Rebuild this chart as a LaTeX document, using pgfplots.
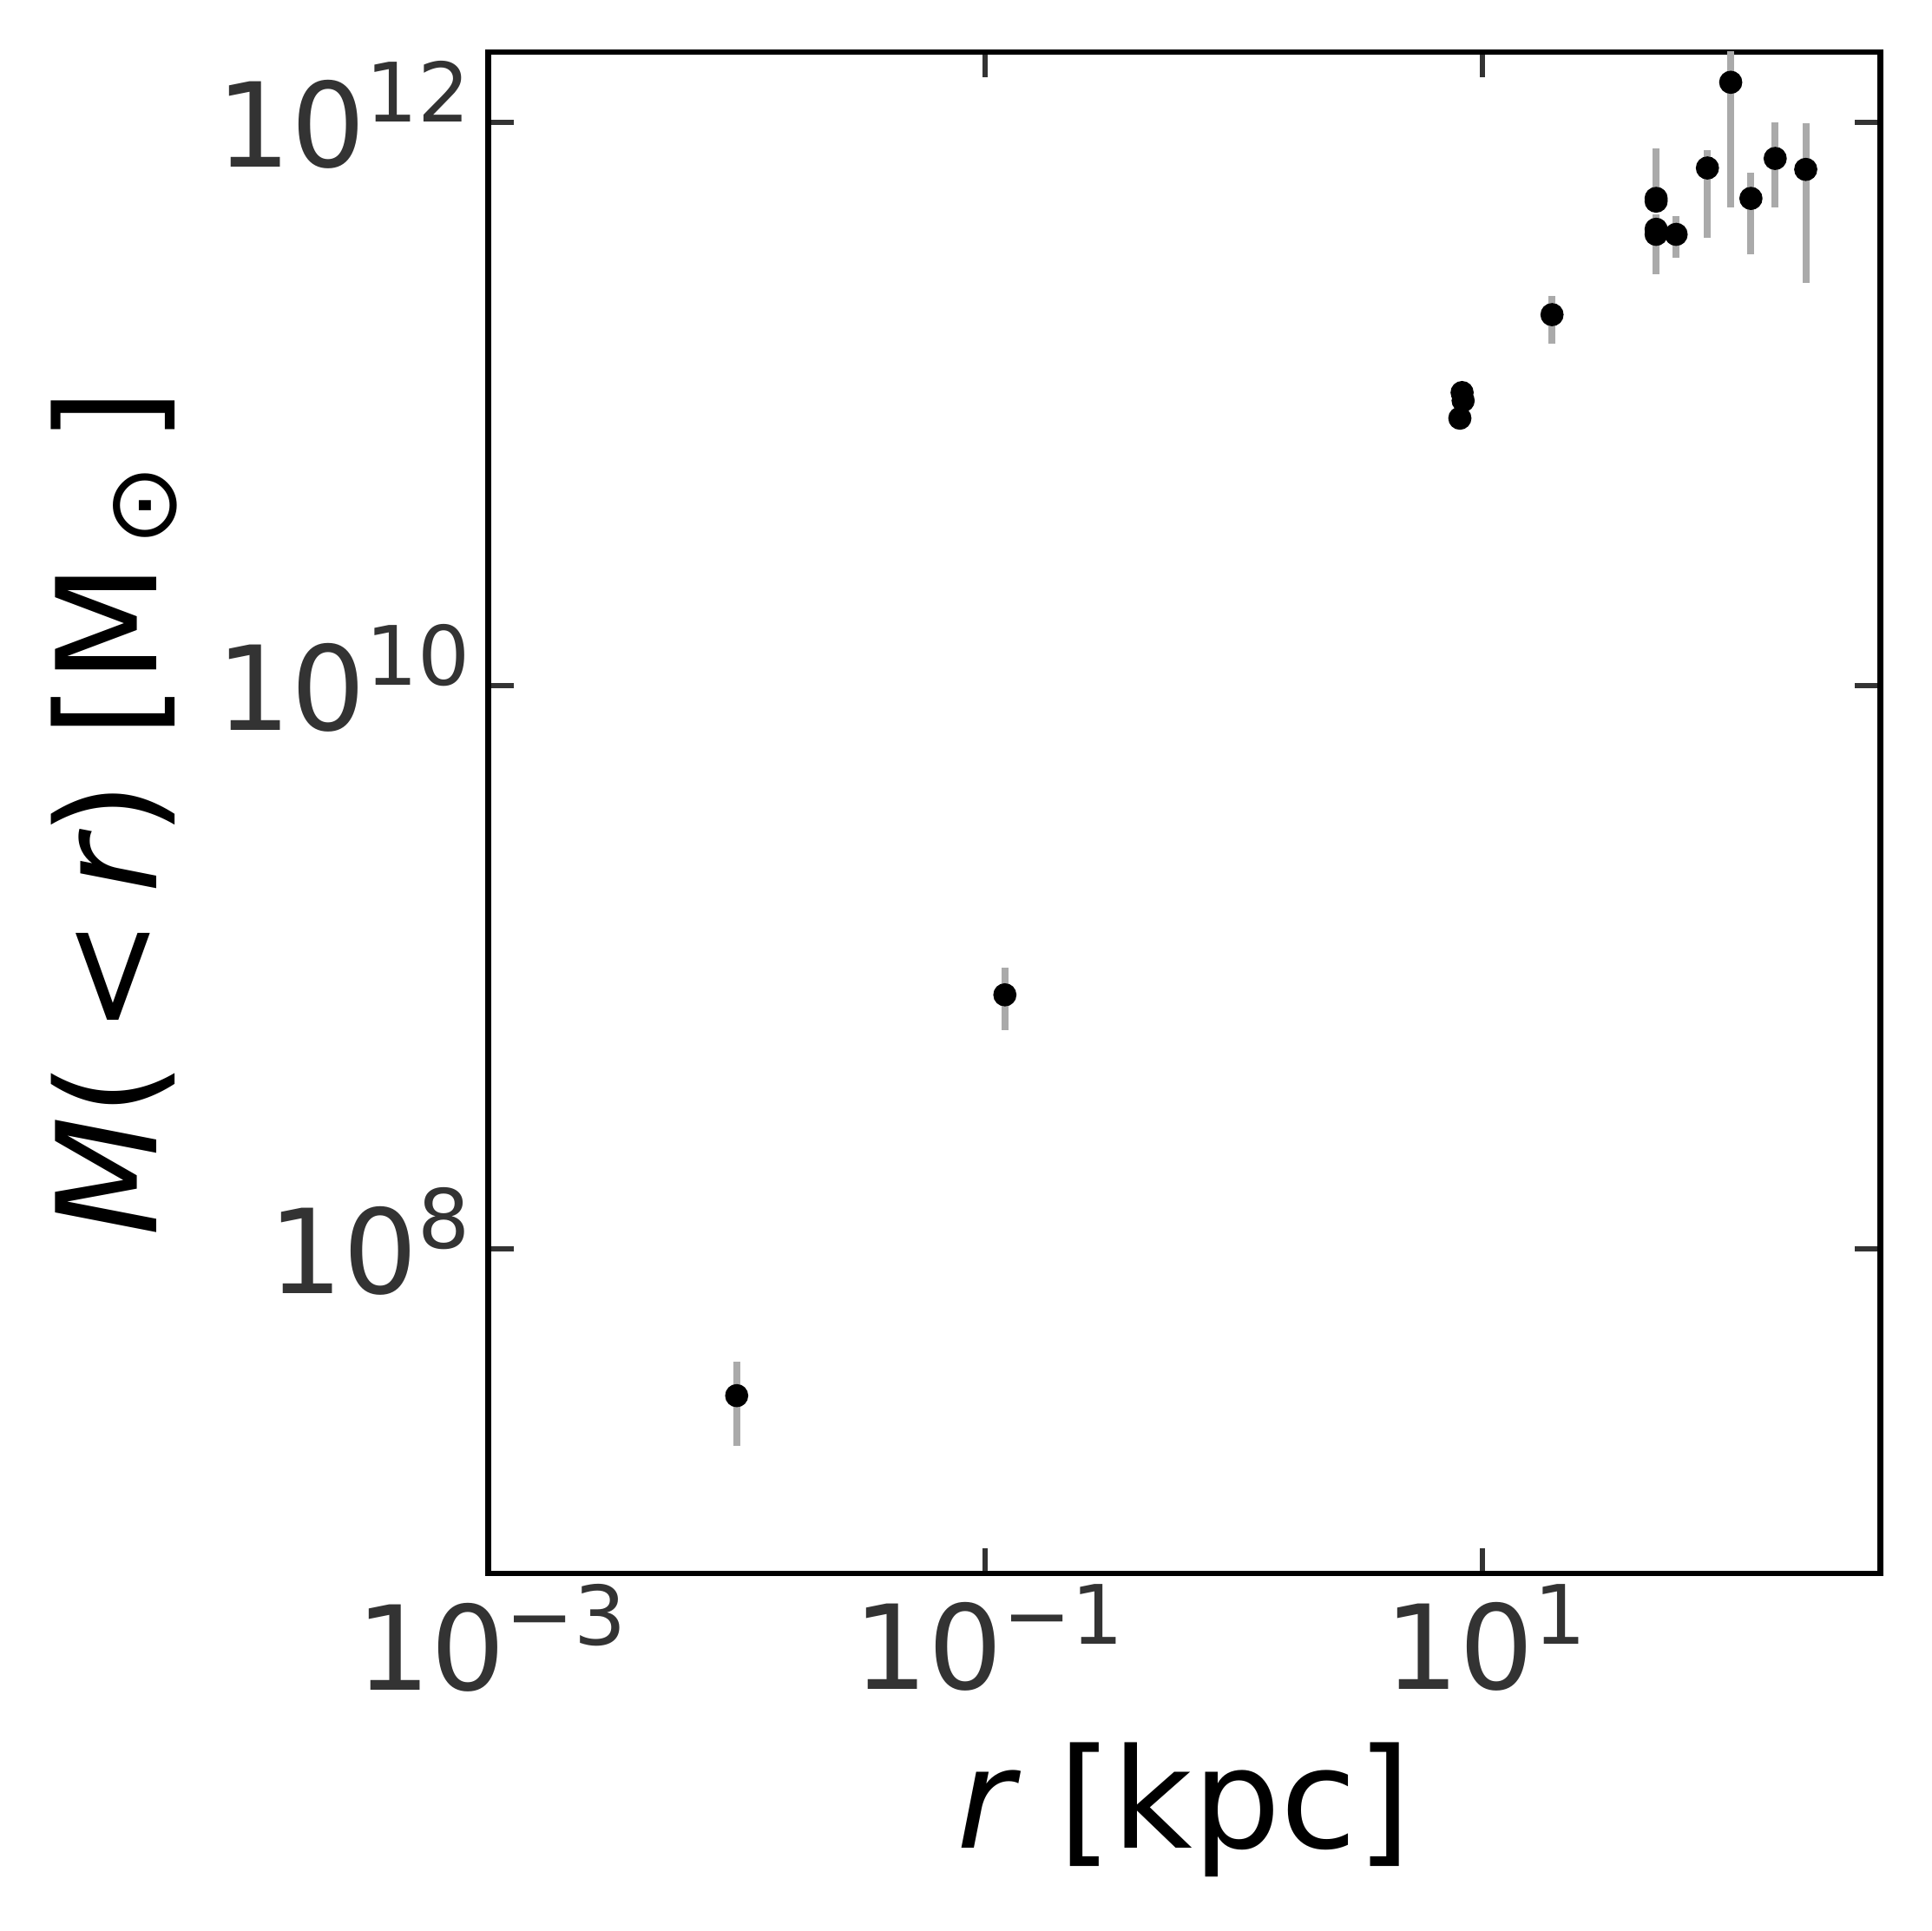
\documentclass[border=0pt]{standalone}
\usepackage{fontspec}
\setmainfont{DejaVu Sans}
\usepackage{pgfplots}
\usepackage{pgfplotstable}
\pgfplotsset{compat=1.18}

\definecolor{ticklab}{HTML}{333333}
\definecolor{errgrey}{HTML}{AAAAAA}

% power-of-ten tick label in the text font
\newcommand{\pw}[1]{10\raisebox{10.3pt}{\fontsize{18.9}{18.9}\selectfont #1}}

% r [kpc], M(<r) [Msun], with upper and lower errors
\pgfplotstableread{
x      y        ep       em
0.01   3.02e7   0.98e7   1.01e7
0.12   8.0e8    2.0e8    2.0e8
8.3    1.10e11  0        0
8.38   1.03e11  0        0
8.13   8.92e10  0        0
19.1   2.08e11  0.34e11  0.44e11
50.1   5.38e11  2.70e11  0.52e11
50.1   5.26e11  0        0
50.1   4.18e11  0.54e11  1.28e11
50.1   4.01e11  0.40e11  1.11e11
60.3   4.01e11  0.64e11  0.70e11
80.6   6.90e11  1.07e11  3.00e11
100    1.39e12  1.00e12  0.89e12
120.6  5.38e11  1.25e11  1.97e11
151    7.46e11  2.54e11  2.46e11
200.4  6.82e11  3.11e11  4.12e11
}\massdata

\begin{document}
\begin{tikzpicture}
\begin{axis}[
    xmode=log, ymode=log,
    scale only axis, width=320.8pt, height=350.6pt,
    at={(0,0)}, anchor=south west,
    xmin=1e-3, xmax=400,
    ymin=7.06e6, ymax=1.78e12,
    xtick={1e-3,1e-1,1e1},
    xticklabels={\pw{−3},\pw{−1},\pw{1}},
    ytick={1e8,1e10,1e12},
    yticklabels={\pw{8},\pw{10},\pw{12}},
    xminorticks=false, yminorticks=false,
    tick align=inside,
    major tick length=5.9pt,
    every tick/.style={color=ticklab, line width=1.2pt},
    axis line style={line width=1.33pt},
    tick label style={color=ticklab, font=\fontsize{27}{27}\selectfont},
    xticklabel style={anchor=north, inner sep=0pt, yshift=-2.35pt, xshift=0.8pt},
    yticklabel style={anchor=base east, inner sep=0pt, xshift=-4.0pt, yshift=-10.2pt},
    xlabel={{\itshape r} [kpc]},
    ylabel={{\itshape M}(\hspace{0.2em}<\hspace{0.18em}{\itshape r}) [M\hspace{4pt}\raisebox{-4.4pt}{\fontsize{22.4}{22.4}\selectfont ⊙}\hspace{5pt}]},
    label style={font=\fontsize{32}{38}\selectfont},
    xlabel style={at={(axis description cs:0.5,-0.1808)}, anchor=base},
    ylabel style={at={(axis description cs:-0.2379,0.5)}, anchor=base},
]
\addplot[
    only marks,
    mark=*,
    mark size=2.47pt,
    mark options={draw=black, fill=black},
    error bars/.cd,
        y dir=both, y explicit,
        error mark=none,
        error bar style={errgrey, line width=1.6pt},
] table[x=x, y=y, y error plus=ep, y error minus=em] {\massdata};
\end{axis}
\pgfresetboundingbox
\path[use as bounding box] (-112.5pt,-82.4pt) rectangle (332.7pt,362.6pt);
\end{tikzpicture}
\end{document}
